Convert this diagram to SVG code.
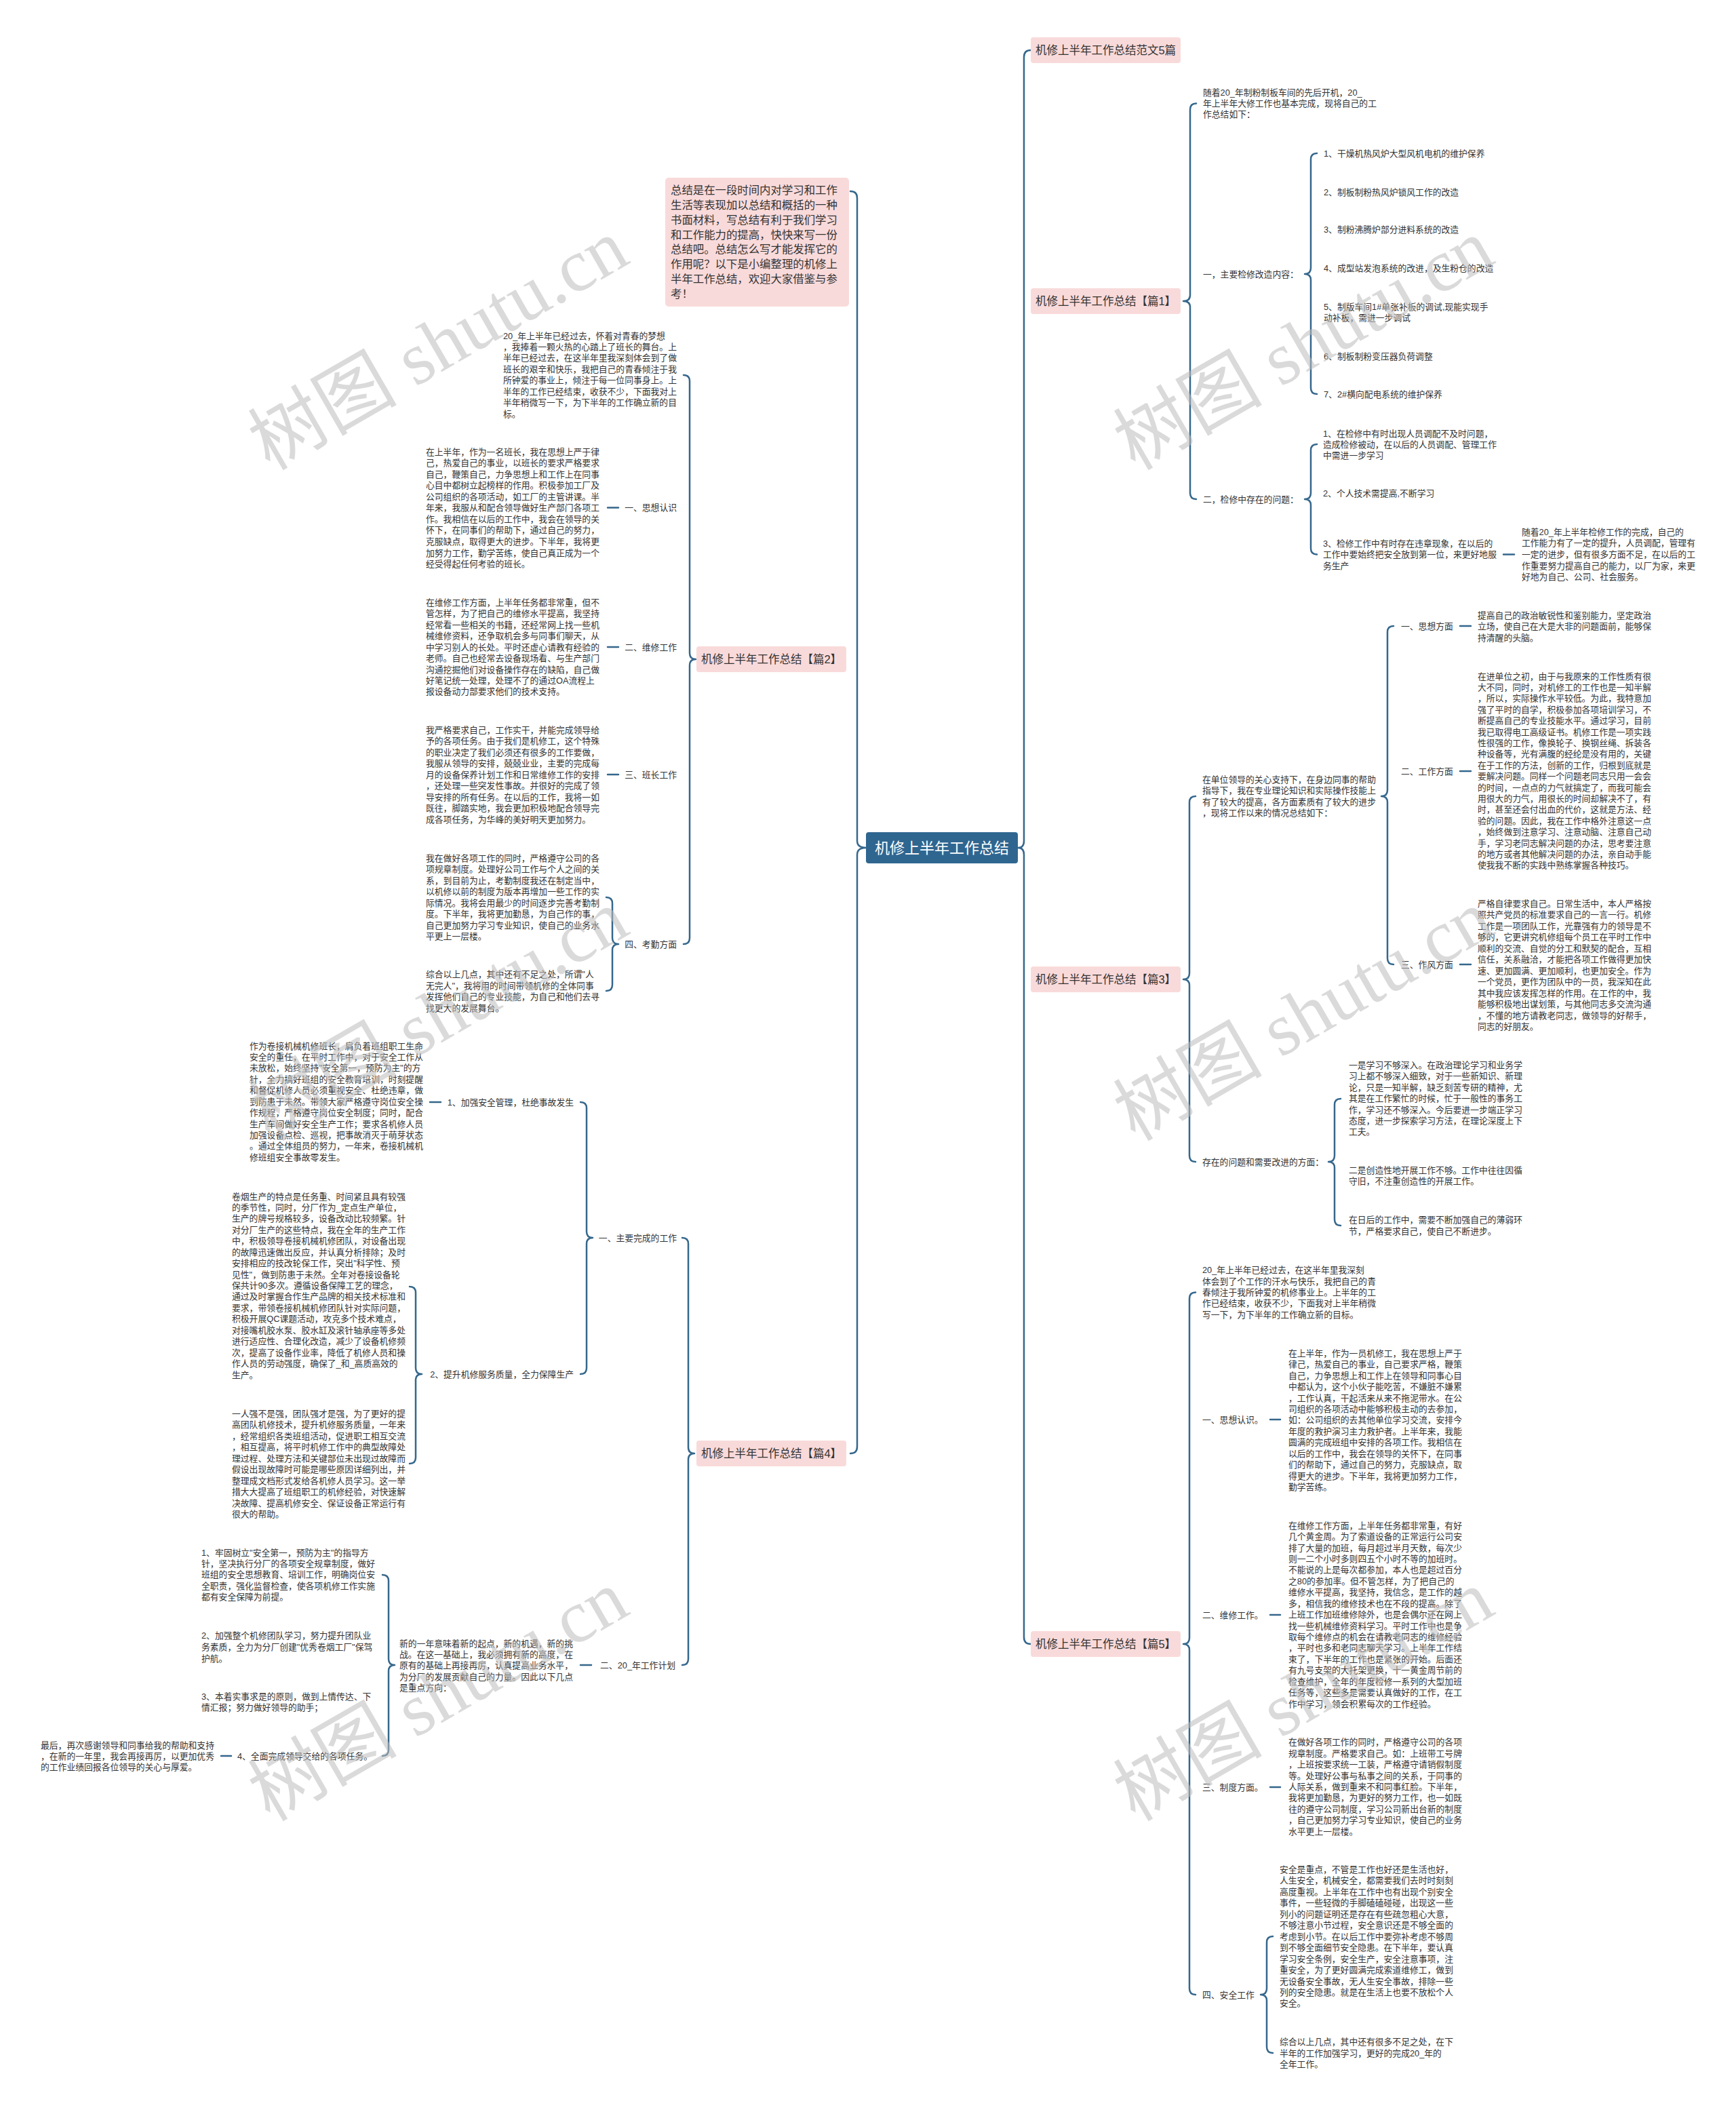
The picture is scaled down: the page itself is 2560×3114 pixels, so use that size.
<svg xmlns="http://www.w3.org/2000/svg" width="2560" height="3114" viewBox="0 0 2560 3114">
<style>
.t{font-family:'Liberation Sans','Noto Sans CJK SC',sans-serif;font-size:12.8px;fill:#333}
.r{text-anchor:end}
.bx{fill:#f9dada}
.bt{font-family:'Liberation Sans','Noto Sans CJK SC',sans-serif;font-size:16.5px;fill:#333;text-anchor:middle}
.it{font-family:'Liberation Sans','Noto Sans CJK SC',sans-serif;font-size:16.4px;fill:#333}
.ct{font-family:'Liberation Sans','Noto Sans CJK SC',sans-serif;font-size:22px;fill:#fff;text-anchor:middle}
.c{fill:none;stroke:#35678c;stroke-width:2.5;stroke-linecap:round;stroke-linejoin:round}
.wm{font-family:'Liberation Serif','Noto Sans CJK SC',serif;font-size:110px;fill:#bdbdbd;opacity:0.55;text-anchor:middle}
</style>
<rect width="2560" height="3114" fill="#fff"/>
<g id="connectors">
<path class="c" d="M1520,74 Q1510,74 1510,84 L1510,1240 Q1510,1250 1501,1250 Q1510,1250 1510,1260 L1510,2414 Q1510,2424 1520,2424"/>
<path class="c" d="M1764,152.5 Q1755,152.5 1755,161.5 L1755,435 Q1755,444 1745,444 Q1755,444 1755,453 L1755,727 Q1755,736 1764,736"/>
<path class="c" d="M1942,226 Q1933,226 1933,235 L1933,395 Q1933,404 1924,404 Q1933,404 1933,413 L1933,572 Q1933,581 1942,581"/>
<path class="c" d="M1942,655 Q1933,655 1933,664 L1933,727 Q1933,736 1924,736 Q1933,736 1933,745 L1933,808.5 Q1933,817.5 1942,817.5"/>
<path class="c" d="M1763,1174 Q1754,1174 1754,1183 L1754,1435 Q1754,1444 1745,1444 Q1754,1444 1754,1453 L1754,1704 Q1754,1713 1763,1713"/>
<path class="c" d="M2055,923 Q2046,923 2046,932 L2046,1165 Q2046,1174 2037,1174 Q2046,1174 2046,1183 L2046,1413 Q2046,1422 2055,1422"/>
<path class="c" d="M1977,1620 Q1968,1620 1968,1629 L1968,1704 Q1968,1713 1959,1713 Q1968,1713 1968,1722 L1968,1798 Q1968,1807 1977,1807"/>
<path class="c" d="M1763,1905.5 Q1754,1905.5 1754,1914.5 L1754,2415 Q1754,2424 1745,2424 Q1754,2424 1754,2433 L1754,2932 Q1754,2941 1763,2941"/>
<path class="c" d="M1877,2855 Q1868,2855 1868,2864 L1868,2932 Q1868,2941 1859,2941 Q1868,2941 1868,2950 L1868,3018 Q1868,3027 1877,3027"/>
<path class="c" d="M1254,282 Q1264,282 1264,292 L1264,1240 Q1264,1250 1277,1250 Q1264,1250 1264,1260 L1264,2133 Q1264,2143 1254,2143"/>
<path class="c" d="M1008,553 Q1017,553 1017,562 L1017,963 Q1017,972 1026,972 Q1017,972 1017,981 L1017,1383 Q1017,1392 1008,1392"/>
<path class="c" d="M894,1323 Q903,1323 903,1332 L903,1383 Q903,1392 912,1392 Q903,1392 903,1401 L903,1452 Q903,1461 894,1461"/>
<path class="c" d="M1006,1825 Q1015,1825 1015,1834 L1015,2134 Q1015,2143 1024,2143 Q1015,2143 1015,2152 L1015,2446 Q1015,2455 1006,2455"/>
<path class="c" d="M856,1625 Q865,1625 865,1634 L865,1816 Q865,1825 874,1825 Q865,1825 865,1834 L865,2017 Q865,2026 856,2026"/>
<path class="c" d="M604,1897 Q613,1897 613,1906 L613,2017 Q613,2026 622,2026 Q613,2026 613,2035 L613,2149 Q613,2158 604,2158"/>
<path class="c" d="M564,2322 Q573,2322 573,2331 L573,2446 Q573,2455 582,2455 Q573,2455 573,2464 L573,2580 Q573,2589 564,2589"/>
<path class="c" d="M2217,817.5 H2233 M2153,923 H2169 M2153,1137 H2169 M2153,1422 H2169 M1873,2093 H1888 M1873,2381 H1888 M1873,2635 H1888"/>
<path class="c" d="M896,748.5 H912 M896,954 H912 M896,1142 H912 M634,1625 H650 M856,2455 H872 M326,2589 H341"/>
</g>

<g id="center">
<rect x="1277" y="1227" width="224" height="46" rx="4" fill="#2f6690"/>
<text class="ct" x="1389" y="1258">机修上半年工作总结</text>
</g>

<g id="n-fanwen"><rect class="bx" x="1520" y="55" width="221" height="38" rx="4"/><text class="bt" x="1630.5" y="80">机修上半年工作总结范文5篇</text></g>
<g id="n-p1"><rect class="bx" x="1520" y="425" width="221" height="38" rx="4"/><text class="bt" x="1630.5" y="450">机修上半年工作总结【篇1】</text></g>
<g id="n-p3"><rect class="bx" x="1520" y="1425" width="221" height="38" rx="4"/><text class="bt" x="1630.5" y="1450">机修上半年工作总结【篇3】</text></g>
<g id="n-p5"><rect class="bx" x="1520" y="2405" width="221" height="38" rx="4"/><text class="bt" x="1630.5" y="2430">机修上半年工作总结【篇5】</text></g>
<g id="n-p2"><rect class="bx" x="1027" y="953" width="221" height="38" rx="4"/><text class="bt" x="1137.5" y="978">机修上半年工作总结【篇2】</text></g>
<g id="n-p4"><rect class="bx" x="1027" y="2124" width="221" height="38" rx="4"/><text class="bt" x="1137.5" y="2149">机修上半年工作总结【篇4】</text></g>

<g id="n-intro">
<rect class="bx" x="981" y="262" width="271" height="190" rx="5"/>
<text class="it"><tspan x="989" y="285.8">总结是在一段时间内对学习和工作</tspan><tspan x="989" dy="21.9">生活等表现加以总结和概括的一种</tspan><tspan x="989" dy="21.9">书面材料，写总结有利于我们学习</tspan><tspan x="989" dy="21.9">和工作能力的提高，快快来写一份</tspan><tspan x="989" dy="21.9">总结吧。总结怎么写才能发挥它的</tspan><tspan x="989" dy="21.9">作用呢？以下是小编整理的机修上</tspan><tspan x="989" dy="21.9">半年工作总结，欢迎大家借鉴与参</tspan><tspan x="989" dy="21.9">考！</tspan></text>
</g>

<!-- 篇1 -->
<g id="p1-intro"><text class="t"><tspan x="1774" y="140.5">随着20_年制粉制板车间的先后开机，20_</tspan><tspan x="1774" dy="16.4">年上半年大修工作也基本完成，现将自己的工</tspan><tspan x="1774" dy="16.4">作总结如下：</tspan></text></g>
<g id="p1-a"><text class="t" x="1774" y="408.5">一，主要检修改造内容：</text></g>
<g id="p1-a1"><text class="t" x="1952" y="230.5">1、干燥机热风炉大型风机电机的维护保养</text></g>
<g id="p1-a2"><text class="t" x="1952" y="287.5">2、制板制粉热风炉锁风工作的改造</text></g>
<g id="p1-a3"><text class="t" x="1952" y="342.5">3、制粉沸腾炉部分进料系统的改造</text></g>
<g id="p1-a4"><text class="t" x="1952" y="399.5">4、成型站发泡系统的改进，及生粉仓的改造</text></g>
<g id="p1-a5"><text class="t"><tspan x="1952" y="457">5、制版车间1#单张补板的调试,现能实现手</tspan><tspan x="1952" dy="16.1">动补板，需进一步调试</tspan></text></g>
<g id="p1-a6"><text class="t" x="1952" y="529.5">6、制板制粉变压器负荷调整</text></g>
<g id="p1-a7"><text class="t" x="1952" y="585.5">7、2#横向配电系统的维护保养</text></g>
<g id="p1-b"><text class="t" x="1774" y="740.5">二，检修中存在的问题：</text></g>
<g id="p1-b1"><text class="t"><tspan x="1951" y="643.5">1、在检修中有时出现人员调配不及时问题，</tspan><tspan x="1951" dy="16">造成检修被动，在以后的人员调配、管理工作</tspan><tspan x="1951" dy="16">中需进一步学习</tspan></text></g>
<g id="p1-b2"><text class="t" x="1951" y="732">2、个人技术需提高,不断学习</text></g>
<g id="p1-b3"><text class="t"><tspan x="1951" y="805.5">3、检修工作中有时存在违章现象，在以后的</tspan><tspan x="1951" dy="16.5">工作中要始终把安全放到第一位，来更好地服</tspan><tspan x="1951" dy="16.5">务生产</tspan></text></g>
<g id="p1-b3a"><text class="t"><tspan x="2244" y="788.8">随着20_年上半年检修工作的完成，自己的</tspan><tspan x="2244" dy="16.6">工作能力有了一定的提升，人员调配，管理有</tspan><tspan x="2244" dy="16.6">一定的进步，但有很多方面不足，在以后的工</tspan><tspan x="2244" dy="16.6">作重要努力提高自己的能力，以厂为家，来更</tspan><tspan x="2244" dy="16.6">好地为自己、公司、社会服务。</tspan></text></g>

<!-- 篇3 -->
<g id="p3-intro"><text class="t"><tspan x="1773" y="1153.8">在单位领导的关心支持下，在身边同事的帮助</tspan><tspan x="1773" dy="16.5">指导下，我在专业理论知识和实际操作技能上</tspan><tspan x="1773" dy="16.5">有了较大的提高，各方面素质有了较大的进步</tspan><tspan x="1773" dy="16.5">，现将工作以来的情况总结如下：</tspan></text></g>
<g id="p3-a"><text class="t" x="2066" y="927.5">一、思想方面</text></g>
<g id="p3-a1"><text class="t"><tspan x="2179" y="911.8">提高自己的政治敏锐性和鉴别能力，坚定政治</tspan><tspan x="2179" dy="16.5">立场，使自己在大是大非的问题面前，能够保</tspan><tspan x="2179" dy="16.5">持清醒的头脑。</tspan></text></g>
<g id="p3-b"><text class="t" x="2066" y="1141.5">二、工作方面</text></g>
<g id="p3-b1"><text class="t"><tspan x="2179" y="1001.5">在进单位之初，由于与我原来的工作性质有很</tspan><tspan x="2179" dy="16.4">大不同，同时，对机修工的工作也是一知半解</tspan><tspan x="2179" dy="16.4">，所以，实际操作水平较低。为此，我特意加</tspan><tspan x="2179" dy="16.4">强了平时的自学，积极参加各项培训学习，不</tspan><tspan x="2179" dy="16.4">断提高自己的专业技能水平。通过学习，目前</tspan><tspan x="2179" dy="16.4">我已取得电工高级证书。机修工作是一项实践</tspan><tspan x="2179" dy="16.4">性很强的工作，像换轮子、换钢丝绳、拆装各</tspan><tspan x="2179" dy="16.4">种设备等，光有满腹的经纶是没有用的，关键</tspan><tspan x="2179" dy="16.4">在于工作的方法，创新的工作，归根到底就是</tspan><tspan x="2179" dy="16.4">要解决问题。同样一个问题老同志只用一会会</tspan><tspan x="2179" dy="16.4">的时间，一点点的力气就搞定了，而我可能会</tspan><tspan x="2179" dy="16.4">用很大的力气，用很长的时间却解决不了，有</tspan><tspan x="2179" dy="16.4">时，甚至还会付出血的代价，这就是方法、经</tspan><tspan x="2179" dy="16.4">验的问题。因此，我在工作中格外注意这一点</tspan><tspan x="2179" dy="16.4">，始终做到注意学习、注意动脑、注意自己动</tspan><tspan x="2179" dy="16.4">手，学习老同志解决问题的办法，思考要注意</tspan><tspan x="2179" dy="16.4">的地方或者其他解决问题的办法，亲自动手能</tspan><tspan x="2179" dy="16.4">使我我不断的实践中熟练掌握各种技巧。</tspan></text></g>
<g id="p3-c"><text class="t" x="2066" y="1426.5">三、作风方面</text></g>
<g id="p3-c1"><text class="t"><tspan x="2179" y="1337">严格自律要求自己。日常生活中，本人严格按</tspan><tspan x="2179" dy="16.45">照共产党员的标准要求自己的一言一行。机修</tspan><tspan x="2179" dy="16.45">工作是一项团队工作，光靠强有力的领导是不</tspan><tspan x="2179" dy="16.45">够的，它更讲究机修组每个员工在平时工作中</tspan><tspan x="2179" dy="16.45">顺利的交流、自觉的分工和默契的配合，互相</tspan><tspan x="2179" dy="16.45">信任，关系融洽，才能把各项工作做得更加快</tspan><tspan x="2179" dy="16.45">速、更加圆满、更加顺利，也更加安全。作为</tspan><tspan x="2179" dy="16.45">一个党员，更作为团队中的一员，我深知在此</tspan><tspan x="2179" dy="16.45">其中我应该发挥怎样的作用。在工作的中，我</tspan><tspan x="2179" dy="16.45">能够积极地出谋划策，与其他同志多交流沟通</tspan><tspan x="2179" dy="16.45">，不懂的地方请教老同志，做领导的好帮手，</tspan><tspan x="2179" dy="16.45">同志的好朋友。</tspan></text></g>
<g id="p3-d"><text class="t" x="1773" y="1717.5">存在的问题和需要改进的方面：</text></g>
<g id="p3-d1"><text class="t"><tspan x="1989" y="1574.9">一是学习不够深入。在政治理论学习和业务学</tspan><tspan x="1989" dy="16.4">习上都不够深入细致，对于一些新知识、新理</tspan><tspan x="1989" dy="16.4">论，只是一知半解，缺乏刻苦专研的精神，尤</tspan><tspan x="1989" dy="16.4">其是在工作繁忙的时候，忙于一般性的事务工</tspan><tspan x="1989" dy="16.4">作，学习还不够深入。今后要进一步端正学习</tspan><tspan x="1989" dy="16.4">态度，进一步探索学习方法，在理论深度上下</tspan><tspan x="1989" dy="16.4">工夫。</tspan></text></g>
<g id="p3-d2"><text class="t"><tspan x="1989" y="1729.9">二是创造性地开展工作不够。工作中往往因循</tspan><tspan x="1989" dy="16.1">守旧，不注重创造性的开展工作。</tspan></text></g>
<g id="p3-d3"><text class="t"><tspan x="1989" y="1803.3">在日后的工作中，需要不断加强自己的薄弱环</tspan><tspan x="1989" dy="17">节，严格要求自己，使自己不断进步。</tspan></text></g>

<!-- 篇5 -->
<g id="p5-intro"><text class="t"><tspan x="1773" y="1877.1">20_年上半年已经过去，在这半年里我深刻</tspan><tspan x="1773" dy="16.4">体会到了个工作的汗水与快乐，我把自己的青</tspan><tspan x="1773" dy="16.4">春倾注于我所钟爱的机修事业上。上半年的工</tspan><tspan x="1773" dy="16.4">作已经结束，收获不少，下面我对上半年稍微</tspan><tspan x="1773" dy="16.4">写一下，为下半年的工作确立新的目标。</tspan></text></g>
<g id="p5-a"><text class="t" x="1773" y="2097.5">一、思想认识。</text></g>
<g id="p5-a1"><text class="t"><tspan x="1900" y="1999.7">在上半年，作为一员机修工，我在思想上严于</tspan><tspan x="1900" dy="16.45">律己，热爱自己的事业，自己要求严格，鞭策</tspan><tspan x="1900" dy="16.45">自己，力争思想上和工作上在领导和同事心目</tspan><tspan x="1900" dy="16.45">中都认为，这个小伙子能吃苦，不嫌脏不嫌累</tspan><tspan x="1900" dy="16.45">，工作认真，干起活来从来不拖泥带水。在公</tspan><tspan x="1900" dy="16.45">司组织的各项活动中能够积极主动的去参加，</tspan><tspan x="1900" dy="16.45">如：公司组织的去其他单位学习交流，安排今</tspan><tspan x="1900" dy="16.45">年度的救护演习主力救护者。上半年来，我能</tspan><tspan x="1900" dy="16.45">圆满的完成班组中安排的各项工作。我相信在</tspan><tspan x="1900" dy="16.45">以后的工作中，我会在领导的关怀下，在同事</tspan><tspan x="1900" dy="16.45">们的帮助下，通过自己的努力，克服缺点，取</tspan><tspan x="1900" dy="16.45">得更大的进步。下半年，我将更加努力工作，</tspan><tspan x="1900" dy="16.45">勤学苦练。</tspan></text></g>
<g id="p5-b"><text class="t" x="1773" y="2385.5">二、维修工作。</text></g>
<g id="p5-b1"><text class="t"><tspan x="1900" y="2253.8">在维修工作方面，上半年任务都非常重，有好</tspan><tspan x="1900" dy="16.42">几个黄金周。为了索道设备的正常运行公司安</tspan><tspan x="1900" dy="16.42">排了大量的加班，每月超过半月天数，每次少</tspan><tspan x="1900" dy="16.42">则一二个小时多则四五个小时不等的加班时。</tspan><tspan x="1900" dy="16.42">不能说的上是每次都参加，本人也是超过百分</tspan><tspan x="1900" dy="16.42">之80的参加率。但不管怎样，为了把自己的</tspan><tspan x="1900" dy="16.42">维修水平提高，我坚持，我信念，是工作的越</tspan><tspan x="1900" dy="16.42">多，相信我的维修技术也在不段的提高。除了</tspan><tspan x="1900" dy="16.42">上班工作加班维修除外，也是会偶尔还在网上</tspan><tspan x="1900" dy="16.42">找一些机械维修资料学习。平时工作中也是争</tspan><tspan x="1900" dy="16.42">取每个维修点的机会在请教老同志的维修经验</tspan><tspan x="1900" dy="16.42">，平时也多和老同志聊天学习。上半年工作结</tspan><tspan x="1900" dy="16.42">束了，下半年的工作也是紧张的开始。后面还</tspan><tspan x="1900" dy="16.42">有九号支架的大托架更换，十一黄金周节前的</tspan><tspan x="1900" dy="16.42">检查维护，全年的年度检修一系列的大型加班</tspan><tspan x="1900" dy="16.42">任务等，这些多是需要认真做好的工作，在工</tspan><tspan x="1900" dy="16.42">作中学习，领会积累每次的工作经验。</tspan></text></g>
<g id="p5-c"><text class="t" x="1773" y="2639.5">三、制度方面。</text></g>
<g id="p5-c1"><text class="t"><tspan x="1900" y="2573.2">在做好各项工作的同时，严格遵守公司的各项</tspan><tspan x="1900" dy="16.45">规章制度。严格要求自己。如：上班带工号牌</tspan><tspan x="1900" dy="16.45">，上班按要求统一工装，严格遵守请销假制度</tspan><tspan x="1900" dy="16.45">等。处理好公事与私事之间的关系，于同事的</tspan><tspan x="1900" dy="16.45">人际关系，做到重来不和同事红脸。下半年，</tspan><tspan x="1900" dy="16.45">我将更加勤恳，为更好的努力工作，也一如既</tspan><tspan x="1900" dy="16.45">往的遵守公司制度，学习公司新出台新的制度</tspan><tspan x="1900" dy="16.45">，自己更加努力学习专业知识，使自己的业务</tspan><tspan x="1900" dy="16.45">水平更上一层楼。</tspan></text></g>
<g id="p5-d"><text class="t" x="1773" y="2945.5">四、安全工作</text></g>
<g id="p5-d1"><text class="t"><tspan x="1887" y="2760.9">安全是重点，不管是工作也好还是生活也好，</tspan><tspan x="1887" dy="16.46">人生安全，机械安全，都需要我们去时时刻刻</tspan><tspan x="1887" dy="16.46">高度重视。上半年在工作中也有出现个别安全</tspan><tspan x="1887" dy="16.46">事件，一些轻微的手脚磕磕碰碰，出现这一些</tspan><tspan x="1887" dy="16.46">列小的问题证明还是存在有些疏忽粗心大意，</tspan><tspan x="1887" dy="16.46">不够注意小节过程，安全意识还是不够全面的</tspan><tspan x="1887" dy="16.46">考虑到小节。在以后工作中要弥补考虑不够周</tspan><tspan x="1887" dy="16.46">到不够全面细节安全隐患。在下半年，要认真</tspan><tspan x="1887" dy="16.46">学习安全条例，安全生产，安全注意事项，注</tspan><tspan x="1887" dy="16.46">重安全，为了更好圆满完成索道维修工，做到</tspan><tspan x="1887" dy="16.46">无设备安全事故，无人生安全事故，排除一些</tspan><tspan x="1887" dy="16.46">列的安全隐患。就是在生活上也要不放松个人</tspan><tspan x="1887" dy="16.46">安全。</tspan></text></g>
<g id="p5-d2"><text class="t"><tspan x="1887" y="3015.1">综合以上几点，其中还有很多不足之处，在下</tspan><tspan x="1887" dy="16.6">半年的工作加强学习，更好的完成20_年的</tspan><tspan x="1887" dy="16.6">全年工作。</tspan></text></g>

<!-- 篇2 -->
<g id="p2-intro"><text class="t"><tspan x="742" y="499.5">20_年上半年已经过去，怀着对青春的梦想</tspan><tspan x="742" dy="16.43">，我捧着一颗火热的心踏上了班长的舞台。上</tspan><tspan x="742" dy="16.43">半年已经过去，在这半年里我深刻体会到了做</tspan><tspan x="742" dy="16.43">班长的艰辛和快乐，我把自己的青春倾注于我</tspan><tspan x="742" dy="16.43">所钟爱的事业上，倾注于每一位同事身上。上</tspan><tspan x="742" dy="16.43">半年的工作已经结束，收获不少，下面我对上</tspan><tspan x="742" dy="16.43">半年稍微写一下，为下半年的工作确立新的目</tspan><tspan x="742" dy="16.43">标。</tspan></text></g>
<g id="p2-a"><text class="t r" x="998" y="753">一、思想认识</text></g>
<g id="p2-a1"><text class="t"><tspan x="628" y="670.5">在上半年，作为一名班长，我在思想上严于律</tspan><tspan x="628" dy="16.57">己，热爱自己的事业，以班长的要求严格要求</tspan><tspan x="628" dy="16.57">自己，鞭策自己，力争思想上和工作上在同事</tspan><tspan x="628" dy="16.57">心目中都树立起榜样的作用。积极参加工厂及</tspan><tspan x="628" dy="16.57">公司组织的各项活动，如工厂的主管讲课。半</tspan><tspan x="628" dy="16.57">年来，我服从和配合领导做好生产部门各项工</tspan><tspan x="628" dy="16.57">作。我相信在以后的工作中，我会在领导的关</tspan><tspan x="628" dy="16.57">怀下，在同事们的帮助下，通过自己的努力，</tspan><tspan x="628" dy="16.57">克服缺点，取得更大的进步。下半年，我将更</tspan><tspan x="628" dy="16.57">加努力工作，勤学苦练，使自己真正成为一个</tspan><tspan x="628" dy="16.57">经受得起任何考验的班长。</tspan></text></g>
<g id="p2-b"><text class="t r" x="998" y="958.5">二、维修工作</text></g>
<g id="p2-b1"><text class="t"><tspan x="628" y="892.8">在维修工作方面，上半年任务都非常重，但不</tspan><tspan x="628" dy="16.46">管怎样，为了把自己的维修水平提高，我坚持</tspan><tspan x="628" dy="16.46">经常看一些相关的书籍，还经常网上找一些机</tspan><tspan x="628" dy="16.46">械维修资料，还争取机会多与同事们聊天，从</tspan><tspan x="628" dy="16.46">中学习别人的长处。平时还虚心请教有经验的</tspan><tspan x="628" dy="16.46">老师。自己也经常去设备现场看、与生产部门</tspan><tspan x="628" dy="16.46">沟通挖掘他们对设备操作存在的缺陷，自己做</tspan><tspan x="628" dy="16.46">好笔记统一处理，处理不了的通过OA流程上</tspan><tspan x="628" dy="16.46">报设备动力部要求他们的技术支持。</tspan></text></g>
<g id="p2-c"><text class="t r" x="998" y="1146.5">三、班长工作</text></g>
<g id="p2-c1"><text class="t"><tspan x="628" y="1080.5">我严格要求自己，工作实干，并能完成领导给</tspan><tspan x="628" dy="16.54">予的各项任务。由于我们是机修工，这个特殊</tspan><tspan x="628" dy="16.54">的职业决定了我们必须还有很多的工作要做，</tspan><tspan x="628" dy="16.54">我服从领导的安排，兢兢业业，主要的完成每</tspan><tspan x="628" dy="16.54">月的设备保养计划工作和日常维修工作的安排</tspan><tspan x="628" dy="16.54">，还处理一些突发性事故。并很好的完成了领</tspan><tspan x="628" dy="16.54">导安排的所有任务。在以后的工作，我将一如</tspan><tspan x="628" dy="16.54">既往，脚踏实地，我会更加积极地配合领导完</tspan><tspan x="628" dy="16.54">成各项任务，为华峰的美好明天更加努力。</tspan></text></g>
<g id="p2-d"><text class="t r" x="998" y="1396.5">四、考勤方面</text></g>
<g id="p2-d1"><text class="t"><tspan x="628" y="1269.5">我在做好各项工作的同时，严格遵守公司的各</tspan><tspan x="628" dy="16.5">项规章制度。处理好公司工作与个人之间的关</tspan><tspan x="628" dy="16.5">系，到目前为止，考勤制度我还在制定当中，</tspan><tspan x="628" dy="16.5">以机修以前的制度为版本再增加一些工作的实</tspan><tspan x="628" dy="16.5">际情况。我将会用最少的时间逐步完善考勤制</tspan><tspan x="628" dy="16.5">度。下半年，我将更加勤恳，为自己作的事，</tspan><tspan x="628" dy="16.5">自己更加努力学习专业知识，使自己的业务水</tspan><tspan x="628" dy="16.5">平更上一层楼。</tspan></text></g>
<g id="p2-d2"><text class="t"><tspan x="628" y="1441.2">综合以上几点，其中还有不足之处，所谓"人</tspan><tspan x="628" dy="16.5">无完人"，我将用的时间带领机修的全体同事</tspan><tspan x="628" dy="16.5">发挥他们自己的专业技能，为自己和他们去寻</tspan><tspan x="628" dy="16.5">找更大的发展舞台。</tspan></text></g>

<!-- 篇4 -->
<g id="p4-a"><text class="t r" x="998" y="1829.5">一、主要完成的工作</text></g>
<g id="p4-a1"><text class="t r" x="846" y="1629.5">1、加强安全管理，杜绝事故发生</text></g>
<g id="p4-a1t"><text class="t"><tspan x="368" y="1546.6">作为卷接机械机修班长，肩负着班组职工生命</tspan><tspan x="368" dy="16.43">安全的重任，在平时工作中，对于安全工作从</tspan><tspan x="368" dy="16.43">未放松，始终坚持"安全第一，预防为主"的方</tspan><tspan x="368" dy="16.43">针，全力搞好班组的安全教育培训，时刻提醒</tspan><tspan x="368" dy="16.43">和督促机修人员必须重视安全、杜绝违章，做</tspan><tspan x="368" dy="16.43">到防患于未然。带领大家严格遵守岗位安全操</tspan><tspan x="368" dy="16.43">作规程，严格遵守岗位安全制度；同时，配合</tspan><tspan x="368" dy="16.43">生产车间做好安全生产工作；要求各机修人员</tspan><tspan x="368" dy="16.43">加强设备点检、巡视，把事故消灭于萌芽状态</tspan><tspan x="368" dy="16.43">。通过全体组员的努力，一年来，卷接机械机</tspan><tspan x="368" dy="16.43">修班组安全事故零发生。</tspan></text></g>
<g id="p4-a2"><text class="t r" x="846" y="2030.5">2、提升机修服务质量，全力保障生产</text></g>
<g id="p4-a2a"><text class="t"><tspan x="342" y="1768.5">卷烟生产的特点是任务重、时间紧且具有较强</tspan><tspan x="342" dy="16.44">的季节性，同时，分厂作为_定点生产单位，</tspan><tspan x="342" dy="16.44">生产的牌号规格较多，设备改动比较频繁。针</tspan><tspan x="342" dy="16.44">对分厂生产的这些特点，我在全年的生产工作</tspan><tspan x="342" dy="16.44">中，积极领导卷接机械机修团队，对设备出现</tspan><tspan x="342" dy="16.44">的故障迅速做出反应，并认真分析排除；及时</tspan><tspan x="342" dy="16.44">安排相应的技改轮保工作，突出"科学性、预</tspan><tspan x="342" dy="16.44">见性"，做到防患于未然。全年对卷接设备轮</tspan><tspan x="342" dy="16.44">保共计90多次。遵循设备保障工艺的理念，</tspan><tspan x="342" dy="16.44">通过及时掌握合作生产品牌的相关技术标准和</tspan><tspan x="342" dy="16.44">要求，带领卷接机械机修团队针对实际问题，</tspan><tspan x="342" dy="16.44">积极开展QC课题活动，攻克多个技术难点，</tspan><tspan x="342" dy="16.44">对接嘴机胶水泵、胶水缸及滚针轴承座等多处</tspan><tspan x="342" dy="16.44">进行适应性、合理化改造，减少了设备机修频</tspan><tspan x="342" dy="16.44">次，提高了设备作业率，降低了机修人员和操</tspan><tspan x="342" dy="16.44">作人员的劳动强度，确保了_和_高质高效的</tspan><tspan x="342" dy="16.44">生产。</tspan></text></g>
<g id="p4-a2b"><text class="t"><tspan x="342" y="2088.5">一人强不是强，团队强才是强，为了更好的提</tspan><tspan x="342" dy="16.5">高团队机修技术，提升机修服务质量，一年来</tspan><tspan x="342" dy="16.5">，经常组织各类班组活动，促进职工相互交流</tspan><tspan x="342" dy="16.5">，相互提高，将平时机修工作中的典型故障处</tspan><tspan x="342" dy="16.5">理过程、处理方法和关键部位未出现过故障而</tspan><tspan x="342" dy="16.5">假设出现故障时可能是哪些原因详细列出，并</tspan><tspan x="342" dy="16.5">整理成文档形式发给各机修人员学习。这一举</tspan><tspan x="342" dy="16.5">措大大提高了班组职工的机修经验，对快速解</tspan><tspan x="342" dy="16.5">决故障、提高机修安全、保证设备正常运行有</tspan><tspan x="342" dy="16.5">很大的帮助。</tspan></text></g>
<g id="p4-b"><text class="t r" x="996" y="2459.5">二、20_年工作计划</text></g>
<g id="p4-b1"><text class="t"><tspan x="589" y="2427.8">新的一年意味着新的起点，新的机遇，新的挑</tspan><tspan x="589" dy="16.25">战。在这一基础上，我必须拥有新的高度，在</tspan><tspan x="589" dy="16.25">原有的基础上再接再厉，认真提高业务水平，</tspan><tspan x="589" dy="16.25">为分厂的发展贡献自己的力量。因此以下几点</tspan><tspan x="589" dy="16.25">是重点方向：</tspan></text></g>
<g id="p4-b1a"><text class="t"><tspan x="297" y="2293.8">1、牢固树立"安全第一，预防为主"的指导方</tspan><tspan x="297" dy="16.25">针，坚决执行分厂的各项安全规章制度，做好</tspan><tspan x="297" dy="16.25">班组的安全思想教育、培训工作，明确岗位安</tspan><tspan x="297" dy="16.25">全职责，强化监督检查，使各项机修工作实施</tspan><tspan x="297" dy="16.25">都有安全保障为前提。</tspan></text></g>
<g id="p4-b1b"><text class="t"><tspan x="297" y="2416.2">2、加强整个机修团队学习，努力提升团队业</tspan><tspan x="297" dy="16.65">务素质，全力为分厂创建"优秀卷烟工厂"保驾</tspan><tspan x="297" dy="16.65">护航。</tspan></text></g>
<g id="p4-b1c"><text class="t"><tspan x="297" y="2506.2">3、本着实事求是的原则，做到上情传达、下</tspan><tspan x="297" dy="15.6">情汇报；努力做好领导的助手；</tspan></text></g>
<g id="p4-b1d"><text class="t r" x="549" y="2593.5">4、全面完成领导交给的各项任务。</text></g>
<g id="p4-b1d1"><text class="t"><tspan x="60" y="2577.5">最后，再次感谢领导和同事给我的帮助和支持</tspan><tspan x="60" dy="16.3">，在新的一年里，我会再接再厉，以更加优秀</tspan><tspan x="60" dy="16.3">的工作业绩回报各位领导的关心与厚爱。</tspan></text></g>

<g id="watermark">
<text class="wm" x="648" y="545" transform="rotate(-30 648 511)">树图 shutu.cn</text>
<text class="wm" x="1924" y="545" transform="rotate(-30 1924 511)">树图 shutu.cn</text>
<text class="wm" x="648" y="1534" transform="rotate(-30 648 1500)">树图 shutu.cn</text>
<text class="wm" x="1924" y="1534" transform="rotate(-30 1924 1500)">树图 shutu.cn</text>
<text class="wm" x="648" y="2537" transform="rotate(-30 648 2503)">树图 shutu.cn</text>
<text class="wm" x="1924" y="2537" transform="rotate(-30 1924 2503)">树图 shutu.cn</text>
</g>
</svg>
